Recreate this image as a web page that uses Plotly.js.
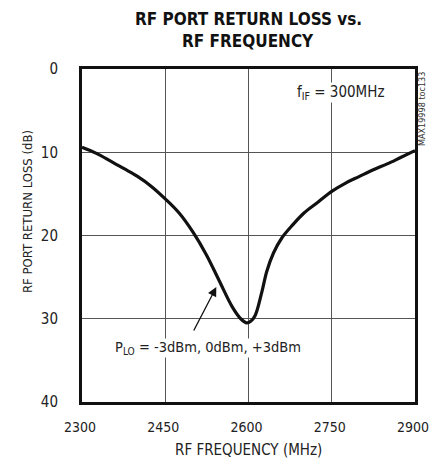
<!DOCTYPE html>
<html><head><meta charset="utf-8">
<script src="https://cdn.plot.ly/plotly-3.0.1.min.js"></script>
<style>html,body{margin:0;padding:0;background:#fff}#chart{width:429px;height:464px}
svg text{font-stretch:condensed !important}</style>
</head><body><div id="chart"></div>
<script>
const freqMHz = [2300, 2325, 2350, 2375, 2400, 2425, 2450, 2475, 2500, 2524, 2547, 2571, 2586, 2597, 2604, 2612, 2624, 2633, 2645, 2660, 2680, 2700, 2725, 2750, 2775, 2800, 2825, 2850, 2875, 2900];
const returnLossDb = [9.4, 10.1, 11.0, 11.95, 12.9, 14.1, 15.6, 17.3, 19.6, 22.3, 25.4, 28.6, 30.0, 30.5, 30.3, 29.6, 26.8, 24.3, 22.1, 20.3, 18.7, 17.3, 16.0, 14.7, 13.7, 12.9, 12.1, 11.4, 10.6, 9.8];
const xTicks = [2300, 2450, 2600, 2750, 2900];
const yTicks = [0, 10, 20, 30, 40];
const titleLines = ["RF PORT RETURN LOSS vs.", "RF FREQUENCY"];
const xTitle = "RF FREQUENCY (MHz)";
const yTitle = "RF PORT RETURN LOSS (dB)";
const noteIF = "f<sub>IF</sub> = 300MHz";
const notePLO = "P<sub>LO</sub> = -3dBm, 0dBm, +3dBm";
const arrowPoint = [2542, 26.2];
const sideLabel = "MAX19998 toc133";

const F = "'DejaVu Sans Condensed', 'DejaVu Sans', sans-serif";
const W = 429, H = 464, ML = 82, MR = 14, MT = 69, MB = 62;
const PW = W - ML - MR, PH = H - MT - MB;
const px2x = p => (p - ML) / PW;          // pixel -> paper x
const py2y = p => 1 - (p - MT) / PH;      // pixel -> paper y

const data = [{
  x: freqMHz, y: returnLossDb, type: 'scatter', mode: 'lines',
  line: {color: '#111', width: 3.2, shape: 'spline', smoothing: 1},
  hoverinfo: 'skip'
}];

const ax = {
  showgrid: true, gridcolor: '#555', gridwidth: 1, zeroline: false,
  showline: true, linecolor: '#111', linewidth: 3, mirror: true, ticks: '',
  ticklabeloverflow: 'allow',
  tickfont: {family: F, size: 15, color: '#222'}
};

const arrowTip = [ML + (arrowPoint[0] - 2300) / 600 * PW, MT + arrowPoint[1] / 40 * PH];

const layout = {
  width: W, height: H,
  margin: {l: ML, r: MR, t: MT, b: MB},
  paper_bgcolor: '#fff', plot_bgcolor: '#fff',
  showlegend: false,
  xaxis: Object.assign({}, ax, {
    range: [2300, 2900], tickvals: xTicks, ticktext: xTicks.map(String),
    tickfont: {family: F, size: 14, color: '#222'},
    ticklabelstandoff: 10, ticklabelshift: -2
  }),
  yaxis: Object.assign({}, ax, {
    range: [40, 0], tickvals: yTicks, ticktext: yTicks.map(String),
    ticklabelstandoff: 18
  }),
  annotations: [
    {x: px2x(248), y: py2y(19), xref: 'paper', yref: 'paper', text: '<b>' + titleLines[0] + '</b>', showarrow: false,
     xanchor: 'center', yanchor: 'middle', font: {family: F, size: 17, color: '#111'}},
    {x: px2x(248), y: py2y(41), xref: 'paper', yref: 'paper', text: '<b>' + titleLines[1] + '</b>', showarrow: false,
     xanchor: 'center', yanchor: 'middle', font: {family: F, size: 17, color: '#111'}},
    {x: px2x(27), y: py2y(212), xref: 'paper', yref: 'paper', text: yTitle, showarrow: false, textangle: -90,
     xanchor: 'center', yanchor: 'middle', font: {family: F, size: 13, color: '#222'}},
    {x: px2x(248), y: py2y(450), xref: 'paper', yref: 'paper', text: xTitle, showarrow: false,
     xanchor: 'center', yanchor: 'middle', font: {family: F, size: 15, color: '#222'}},
    {x: 2846, y: 2.8, xref: 'x', yref: 'y', text: noteIF, showarrow: false, xanchor: 'right', yanchor: 'middle',
     bgcolor: '#fff', borderpad: 0, font: {family: F, size: 15, color: '#222'}},
    {x: 2358, y: 33.5, xref: 'x', yref: 'y', text: notePLO, showarrow: false, xanchor: 'left', yanchor: 'middle',
     bgcolor: '#fff', borderpad: 0, font: {family: F, size: 14.5, color: '#222'}},
    {x: arrowPoint[0], y: arrowPoint[1], xref: 'x', yref: 'y', ax: 193 - arrowTip[0], ay: 332 - arrowTip[1],
     text: '', showarrow: true, arrowhead: 2, arrowsize: 1.4, arrowwidth: 1.3, arrowcolor: '#111', standoff: 0},
    {x: px2x(422), y: py2y(109), xref: 'paper', yref: 'paper', text: sideLabel, showarrow: false, textangle: -90,
     xanchor: 'center', yanchor: 'middle', font: {family: F, size: 9, color: '#333'}}
  ]
};

Plotly.newPlot('chart', data, layout, {displayModeBar: false, staticPlot: true});
</script></body></html>
